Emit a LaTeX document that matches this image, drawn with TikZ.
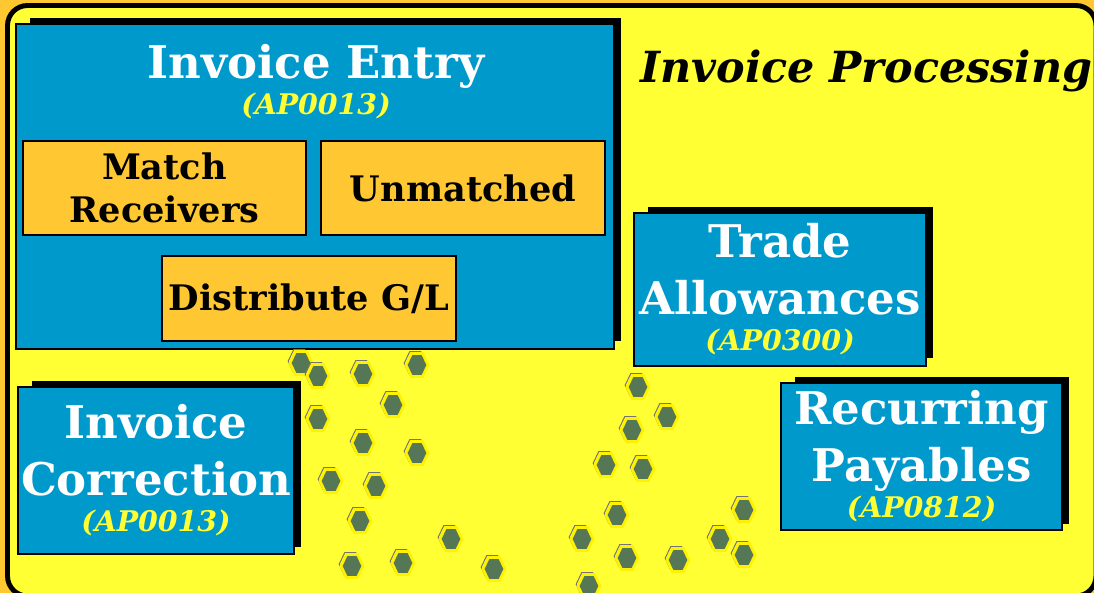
\documentclass[tikz,border=0pt]{standalone}
\usepackage{fontspec}
\setmainfont{DejaVu Serif}
\usetikzlibrary{positioning}

\definecolor{pagebg}{HTML}{FFC830}
\definecolor{slidebg}{HTML}{FFFF33}
\definecolor{boxblue}{HTML}{0099CC}
\definecolor{boxorange}{HTML}{FFC832}
\definecolor{idyellow}{HTML}{FFFF33}
\definecolor{hexgreen}{HTML}{557755}

\tikzset{
  module/.style={draw=black,line width=0.9pt,fill=boxblue,text=white,align=center,
    font=\fontsize{32}{40.5}\selectfont\bfseries,inner sep=0pt},
  boxshadow/.style={fill=black},
  task/.style={draw=black,line width=0.9pt,fill=boxorange,align=center,
    font=\fontsize{25}{31}\selectfont\bfseries,inner sep=0pt},
  hexcell/.style={fill=hexgreen,draw=yellow,line width=1.9pt},
  hexedge/.style={draw=black!55,line width=0.7pt},
}
\newcommand{\progid}[1]{{\fontsize{20.2}{24}\selectfont\itshape\color{idyellow}#1}}

\begin{document}
\begin{tikzpicture}[x=0.025cm,y=-0.025cm]
\useasboundingbox (0,0) rectangle (1094,593);

% slide background
\fill[pagebg] (0,0) rectangle (1094,593);
\draw[fill=slidebg,line width=3.5pt,rounded corners=0.5cm] (7.5,5.5) rectangle (1096,596);

\node[anchor=base west,inner sep=0pt,font=\fontsize{30.5}{36}\selectfont\bfseries\itshape] (heading) at (640,82) {Invoice Processing};

% shadows behind the program boxes
\fill[boxshadow] (30,18) rectangle (621,341);
\fill[boxshadow] (648,207) rectangle (933,358);
\fill[boxshadow] (795,377) rectangle (1069,524);
\fill[boxshadow] (32,381) rectangle (301,547);

% Invoice entry with its three steps
\node[module,minimum width=14.95cm,minimum height=8.125cm] (entry) at (315,186.5) {};
\node[text=white,align=center,font=\fontsize{32}{40.5}\selectfont\bfseries] (entrytitle) at (316,82) {Invoice Entry\\[-15pt]\progid{(AP0013)}};

\node[task,minimum width=7.075cm,minimum height=2.35cm] (match) at (164.5,188) {Match\\Receivers};
\node[task,minimum width=7.1cm,minimum height=2.35cm] (unmatched) at (463,188) {Unmatched};
\node[task,minimum width=7.35cm,minimum height=2.125cm] (distgl) at (309,298.5) {Distribute G/L};

% other programs
\node[module,minimum width=7.3cm,minimum height=3.825cm] (trade) at (780,289.5) {Trade\\Allowances\\[-15pt]\progid{(AP0300)}};
\node[module,minimum width=7.025cm,minimum height=3.675cm] (recur) at (921.5,456.5) {Recurring\\Payables\\[-15pt]\progid{(AP0812)}};
\node[module,minimum width=6.9cm,minimum height=4.175cm] (correct) at (156,470.5) {Invoice\\Correction\\[-15pt]\progid{(AP0013)}};

% scattered hexagons
\foreach \x/\y in {301/363,318/376,363/374,417/365,393/405,318/419,363/443,417/453,
    331/481,376/486,360/521,451/539,352/566,403/563,494/569,
    638/387,667/417,632/430,606/465,643/469,617/515,744/510,
    582/539,720/539,627/558,678/560,744/555,589/586}{
  \draw[hexedge] (\x-1.8,\y-1.8) ++(-11,0) -- ++(5.5,-11.5) -- ++(11,0) -- ++(5.5,11.5) -- ++(-5.5,11.5) -- ++(-11,0) -- cycle;
  \draw[hexcell] (\x,\y) ++(-11,0) -- ++(5.5,-11.5) -- ++(11,0) -- ++(5.5,11.5) -- ++(-5.5,11.5) -- ++(-11,0) -- cycle;
}
\end{tikzpicture}
\end{document}
